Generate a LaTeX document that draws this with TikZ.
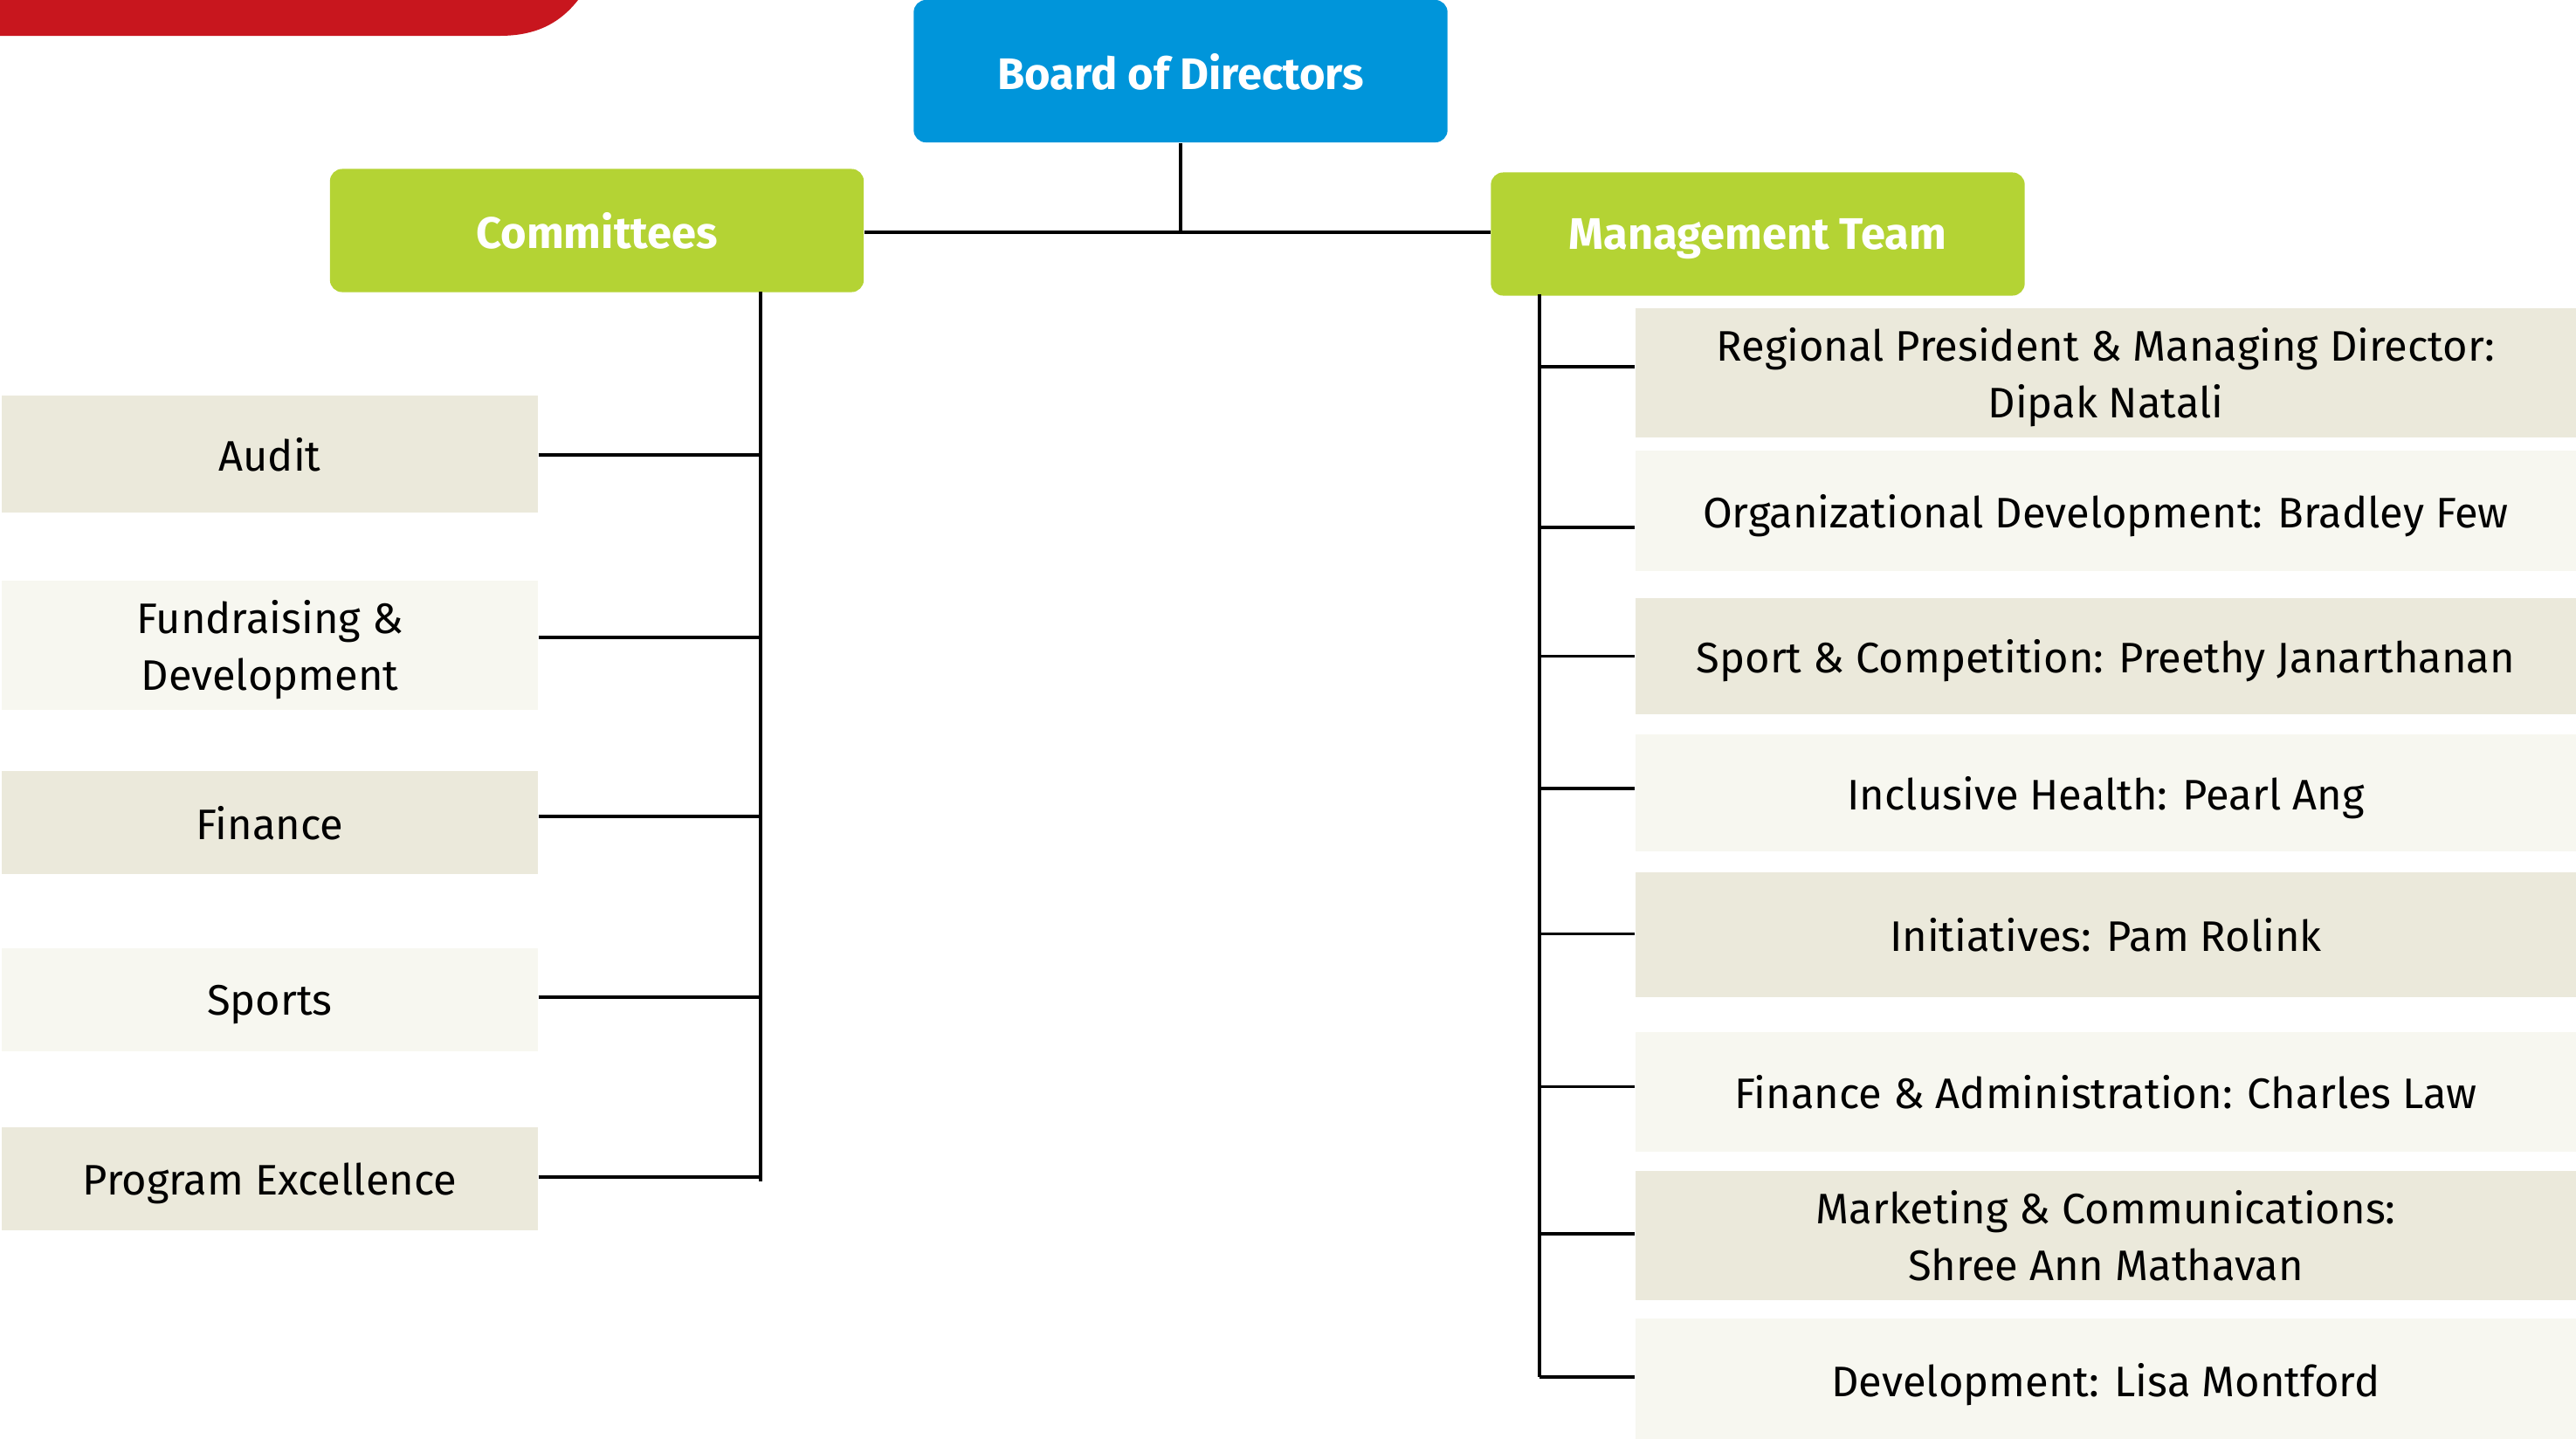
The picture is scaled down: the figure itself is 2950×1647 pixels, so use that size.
\documentclass[tikz,border=0pt]{standalone}
\usepackage{fontspec}
\setmainfont{Fira Sans}
\usetikzlibrary{positioning,calc}
\definecolor{sored}{HTML}{C8161E}
\definecolor{soblue}{HTML}{0095DA}
\definecolor{sogreen}{HTML}{B4D334}
\definecolor{beigedark}{HTML}{EBE9DB}
\definecolor{beigelight}{HTML}{F7F7F0}
\tikzset{
    %Define style for the header boxes
    head/.style={
           rectangle,
           rounded corners=4pt,
           minimum width=6.11cm,
           minimum height=1.41cm,
           inner sep=0pt,
           text depth=0pt,
           text=white,
           font=\fontsize{14.4}{16}\selectfont\bfseries,
           fill=sogreen},
    %Define style for the committee boxes
    unit/.style={
           rectangle,
           minimum width=6.14cm,
           inner sep=0pt,
           text depth=0pt,
           align=center,
           font=\fontsize{13.9}{18.5}\selectfont},
    %Define style for the management boxes
    staff/.style={
           unit,
           minimum width=10.77cm},
    dark/.style={fill=beigedark},
    light/.style={fill=beigelight},
    % Define connector style
    link/.style={
           line width=1pt,
           black}
}
\begin{document}
\begin{tikzpicture}[x=0.01cm,y=-0.01cm]
\useasboundingbox (0,0) rectangle (2950,1647);
\fill[sored] (0,0) -- (662,0) .. controls (640,28) and (612,41) .. (572,41) -- (0,41) -- cycle;

% top level
\node[head, fill=soblue, minimum height=1.63cm](bod) at (1352,81.5){Board of Directors};
\node[head](com) at (683.5,264){Committees};
\node[head](mgt) at (2013,268){Management Team};

% committees
\node[unit, dark, minimum height=1.34cm](aud) at (309,520){Audit};
\node[unit, light, minimum height=1.48cm](fund) at (309,739){Fundraising \&\\Development};
\node[unit, dark, minimum height=1.17cm](fin) at (309,942){Finance};
\node[unit, light, minimum height=1.17cm](spo) at (309,1145){Sports};
\node[unit, dark, minimum height=1.18cm](pex) at (309,1350){Program Excellence};

% management team
\node[staff, dark, minimum height=1.48cm](pres) at (2411.5,427){Regional President \& Managing Director:\\Dipak Natali};
\node[staff, light, minimum height=1.38cm](orgd) at (2411.5,585){Organizational Development: Bradley Few};
\node[staff, dark, minimum height=1.33cm](spc) at (2411.5,751.5){Sport \& Competition: Preethy Janarthanan};
\node[staff, light, minimum height=1.34cm](inh) at (2411.5,908){Inclusive Health: Pearl Ang};
\node[staff, dark, minimum height=1.43cm](ini) at (2411.5,1070.5){Initiatives: Pam Rolink};
\node[staff, light, minimum height=1.37cm](fad) at (2411.5,1250.5){Finance \& Administration: Charles Law};
\node[staff, dark, minimum height=1.48cm](mcom) at (2411.5,1415){Marketing \& Communications:\\Shree Ann Mathavan};
\node[staff, light, minimum height=1.40cm](dev) at (2411.5,1580){Development: Lisa Montford};

\coordinate (ltop) at (871,334);
\coordinate (rtop) at (1763,337);

\draw[link] (bod.south) -- (bod.south |- 0,266);
\draw[link] (com.east |- 0,266) -- (mgt.west |- 0,266);
\draw[link] (ltop) -- ($(ltop |- pex.east)+(0,3)$);
\draw[link] (rtop) -- ($(rtop |- dev.west)+(0,-3)$);
\foreach \n/\d in {aud/1,fund/-9,fin/-7,spo/-3,pex/-2}
	\draw[link] ($(\n.east)+(0,\d)$) -- ($(\n.east -| ltop)+(0,\d)$);
\foreach \n/\d in {pres/-7,orgd/19,spc/0,inh/-5,ini/-1,fad/-6,mcom/-2,dev/-3}
	\draw[link] ($(\n.west)+(0,\d)$) -- ($(\n.west -| rtop)+(0,\d)$);
\end{tikzpicture}
\end{document}
